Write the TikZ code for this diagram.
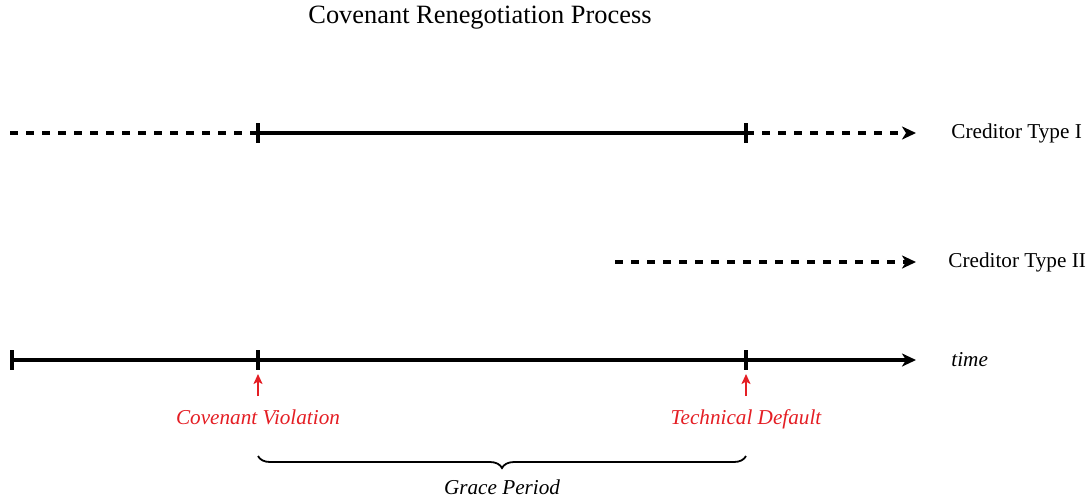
\documentclass[tikz,border=0pt]{standalone}
\usepackage{fontspec}
\setmainfont{Liberation Serif}
\usetikzlibrary{arrows.meta,decorations.pathreplacing}
\definecolor{evred}{RGB}{228,30,36}
\begin{document}
\begin{tikzpicture}[x=0.5pt,y=-0.5pt,
  solidline/.style={line width=1.6pt},
  dashline/.style={line width=1.6pt,dash pattern=on 4pt off 4pt},
  tipped/.style={-{Stealth[length=7pt,width=6.5pt,inset=2pt]}},
  tickmark/.style={line width=1.6pt},
  lab/.style={font=\fontsize{10.6}{12.5}\selectfont, anchor=west, inner sep=0pt},
  evlab/.style={font=\fontsize{10.6}{12.5}\selectfont\itshape, text=evred, inner sep=0pt, anchor=base},
  evarrow/.style={draw=evred, line width=1pt, -{Stealth[length=5pt,width=4.5pt,inset=1.2pt]}},
  bracestyle/.style={line width=0.9pt, decorate, decoration={brace,mirror,amplitude=6pt}}]
\useasboundingbox (0,0) rectangle (1091,500);
% title
\node (title) at (480,18) {\fontsize{13.2}{15}\selectfont Covenant Renegotiation Process};
% row 1
\coordinate (a0) at (10,133);
\coordinate (a1) at (258,133);
\coordinate (a2) at (746,133);
\coordinate (a3) at (916,133);
\node[lab] (c1) at (951,133) {Creditor Type I};
\draw[dashline] (a0) -- (a1);
\draw[solidline] (a1) -- (a2);
\draw[dashline,tipped] (a2) -- (a3);
\draw[tickmark] ([yshift=10*0.5pt]a1) -- ([yshift=-10*0.5pt]a1);
\draw[tickmark] ([yshift=10*0.5pt]a2) -- ([yshift=-10*0.5pt]a2);
% row 2
\coordinate (b0) at (615,262);
\coordinate (b1) at (916,262);
\node[lab] (c2) at (948,262) {Creditor Type II};
\draw[dashline,tipped] (b0) -- (b1);
% row 3: time axis
\coordinate (t0) at (12,360);
\coordinate (t1) at (258,360);
\coordinate (t2) at (746,360);
\coordinate (t3) at (916,360);
\node[lab,font=\fontsize{10.6}{12.5}\selectfont\itshape] (time) at (951,360) {time};
\draw[solidline,tipped] (t0) -- (t3);
\foreach \p in {t0,t1,t2}
  \draw[tickmark] ([yshift=10*0.5pt]\p) -- ([yshift=-10*0.5pt]\p);
% events
\node[evlab] (viol) at (258,424) {Covenant Violation};
\node[evlab] (tdef) at (746,424) {Technical Default};
\coordinate (v0) at (258,396);
\coordinate (v1) at (258,374);
\coordinate (d0) at (746,396);
\coordinate (d1) at (746,374);
\draw[evarrow] (v0) -- (v1);
\draw[evarrow] (d0) -- (d1);
% brace
\coordinate (g0) at (258,456);
\coordinate (g1) at (746,456);
\draw[bracestyle] (g0) -- (g1);
\node[font=\fontsize{10.6}{12.5}\selectfont\itshape, anchor=base] (grace) at (502,494) {Grace Period};
\end{tikzpicture}
\end{document}
